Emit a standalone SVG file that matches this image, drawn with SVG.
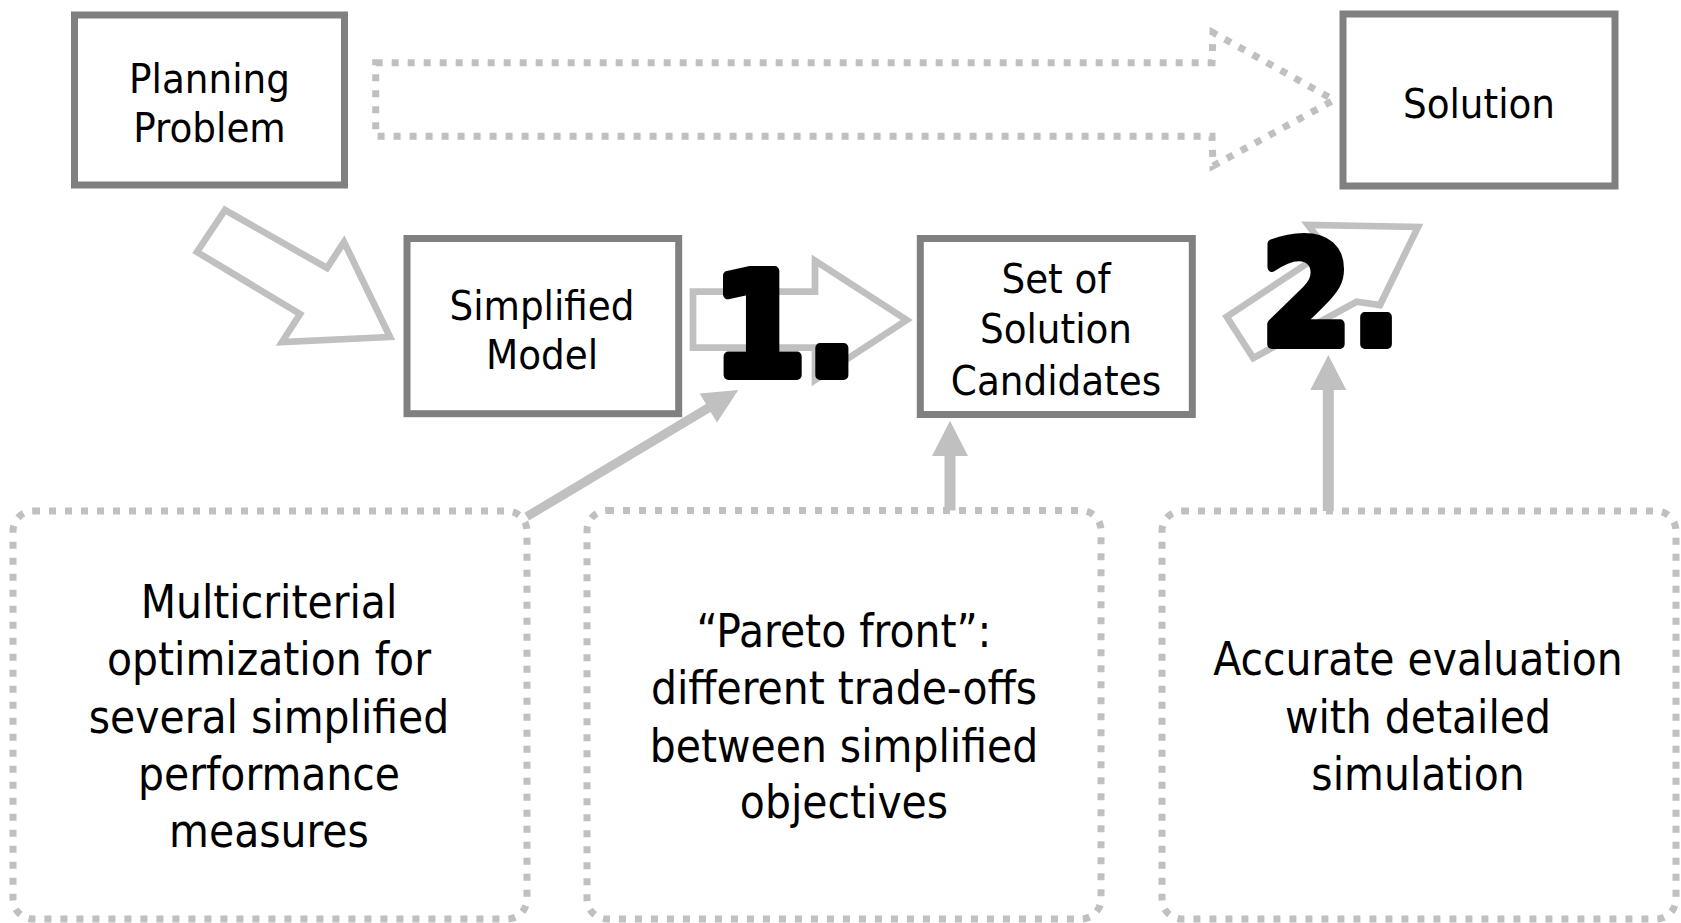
<svg xmlns="http://www.w3.org/2000/svg" width="1681" height="923" viewBox="0 0 1681 923">
<style>
.box{fill:#fff;stroke:#808080;stroke-width:7}
.dbox{fill:none;stroke:#c0c0c0;stroke-width:7;stroke-dasharray:7 9}
.hollow{fill:none;stroke:#c0c0c0;stroke-width:6.7;stroke-linejoin:miter}
.dotarrow{fill:none;stroke:#c0c0c0;stroke-width:7;stroke-dasharray:7 9}
.solid{fill:#c0c0c0;stroke:none}
.t{font-family:"DejaVu Sans Condensed","DejaVu Sans",sans-serif;font-stretch:condensed;fill:#000;text-anchor:middle}
.bt{font-size:41.5px}
.lt{font-size:45.5px}
.num{font-family:"DejaVu Sans",sans-serif;font-weight:bold;font-size:143px;fill:#000;stroke:#000;stroke-width:10;stroke-linejoin:round;text-anchor:middle}
</style>
<rect width="1681" height="923" fill="#fff"/>
<g id="connectors">
  <polygon class="dotarrow" points="375.7,62.7 1212,62.7 1213,32.5 1334,100 1213,166 1212,136.3 375.7,136.3"/>
  <polygon class="hollow" points="225,210 197,252 300,314 282,342 390,337 344,242 327,268"/>
  <polygon class="hollow" points="693,291.7 815,291.7 815,260.7 906.7,320 815,380 815,347.7 693,347.7"/>
  <polygon class="hollow" points="1226.7,316.7 1327.4,250 1308,225 1418,227 1380,305 1356.7,301.7 1253.3,358"/>
  <polygon class="solid" points="524.4,512.8 706.0,404.1 699.6,393.4 738.3,390 717.0,422.6 710.6,411.9 529.0,520.6"/>
  <polygon class="solid" points="944.5,510.5 944.5,456 932,456 950,420.7 968,456 955.5,456 955.5,510.5"/>
  <polygon class="solid" points="1322.8,511 1322.8,390 1310.3,390 1328.3,355 1346.3,390 1333.8,390 1333.8,511"/>
</g>
<g id="node-planning">
  <rect class="box" x="74.5" y="15" width="270" height="170"/>
  <text class="t bt" x="209.5" y="93">Planning</text>
  <text class="t bt" x="209.5" y="141.5">Problem</text>
</g>
<g id="node-solution">
  <rect class="box" x="1343" y="14" width="272" height="172"/>
  <text class="t bt" x="1479" y="118">Solution</text>
</g>
<g id="node-simplified">
  <rect class="box" x="407" y="238.5" width="271.7" height="175.2"/>
  <text class="t bt" x="542" y="319.5">Simplified</text>
  <text class="t bt" x="542" y="369">Model</text>
</g>
<g id="node-candidates">
  <rect class="box" x="920.3" y="238.5" width="272" height="176"/>
  <text class="t bt" x="1056" y="292.7">Set of</text>
  <text class="t bt" x="1056" y="343">Solution</text>
  <text class="t bt" x="1056" y="394.5">Candidates</text>
</g>
<g id="label-1">
  <text class="num" x="785" y="375" textLength="145" lengthAdjust="spacingAndGlyphs">1.</text>
</g>
<g id="label-2">
  <text class="num" x="1331" y="344" textLength="139" lengthAdjust="spacingAndGlyphs">2.</text>
</g>
<g id="note-optimization">
  <rect class="dbox" x="13" y="511" width="514" height="408" rx="20"/>
  <text class="t lt" x="269" y="618">Multicriterial</text>
  <text class="t lt" x="269" y="675">optimization for</text>
  <text class="t lt" x="269" y="733">several simplified</text>
  <text class="t lt" x="269" y="790">performance</text>
  <text class="t lt" x="269" y="847">measures</text>
</g>
<g id="note-pareto">
  <rect class="dbox" x="587" y="510.5" width="514" height="408.5" rx="20"/>
  <text class="t lt" x="844" y="647">“Pareto front”:</text>
  <text class="t lt" x="844" y="704">different trade-offs</text>
  <text class="t lt" x="844" y="762">between simplified</text>
  <text class="t lt" x="844" y="818">objectives</text>
</g>
<g id="note-evaluation">
  <rect class="dbox" x="1162" y="511" width="514" height="408" rx="20"/>
  <text class="t lt" x="1418" y="675">Accurate evaluation</text>
  <text class="t lt" x="1418" y="733">with detailed</text>
  <text class="t lt" x="1418" y="790">simulation</text>
</g>
</svg>
